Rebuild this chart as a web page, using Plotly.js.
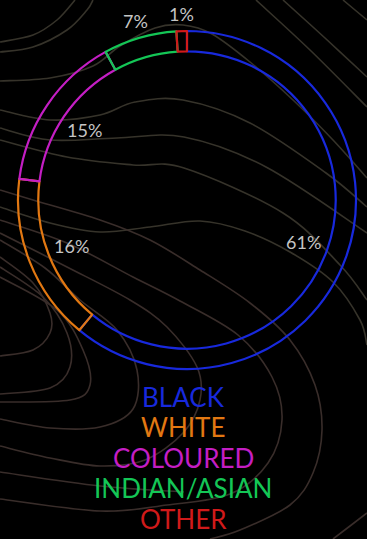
<!DOCTYPE html>
<html>
<head>
<meta charset="utf-8">
<script src="https://cdn.plot.ly/plotly-3.0.1.min.js"></script>
<style>
  html, body { margin: 0; padding: 0; background: #000; }
  #chart { width: 367px; height: 539px; }
</style>
</head>
<body>
<div id="chart"></div>
<script>
// Population groups and their shares (%)
const groups = ['BLACK', 'WHITE', 'COLOURED', 'INDIAN/ASIAN', 'OTHER'];
const shares = [61, 16, 15, 7, 1];
const groupColors = ['#1829dc', '#e27812', '#c41ec4', '#14c656', '#d01a1a'];

const W = 367, H = 539;

// Ring geometry in page pixels
const ring = { cx: 187, cy: 200, r: 169 };

// Decorative terrain lines behind the ring (page pixels)
const terrainOlive = [
  [[0,42],[33,35],[57,20],[75,0]],
  [[0,52],[33,47],[67,30],[87,10],[93,0]],
  [[0,81],[50,78],[93,66],[120,46],[155,28],[183,25],[212,34],[250,62],[293,100],[333,140],[367,178]],
  [[0,110],[50,120],[100,115],[135,102],[183,100],[250,123],[326,173],[367,207]],
  [[0,128],[50,140],[117,138],[184,137],[266,167],[367,233]],
  [[0,140],[67,157],[133,165],[184,168],[283,213],[340,265],[367,300]],
  [[0,207],[50,223],[100,232],[150,227],[200,221],[245,231],[290,252],[333,282],[360,320],[367,345]],
  [[256,0],[310,50],[367,107]],
  [[283,0],[325,38],[367,77]],
  [[343,0],[367,20]]
];
const terrainBrown = [
  [[0,257],[33,283],[50,313],[50,333],[33,350],[0,356]],
  [[0,267],[43,297],[67,333],[70,367],[50,388],[0,394]],
  [[0,277],[57,310],[83,350],[90,385],[70,400],[0,402]],
  [[0,240],[45,268],[80,300],[117,330],[137,370],[133,409],[100,427],[50,428],[0,419]],
  [[0,233],[67,267],[130,300],[167,327],[197,367],[200,400],[183,433],[145,460],[100,466],[50,458],[0,446]],
  [[0,220],[67,243],[133,277],[180,301],[238,335],[272,377],[282,420],[268,463],[230,494],[167,505],[100,511],[0,499]],
  [[0,190],[33,200],[100,220],[150,240],[200,270],[250,303],[290,340],[315,385],[322,430],[313,473],[290,505],[240,530],[210,539]],
  [[0,472],[100,486],[184,492]],
  [[367,513],[333,539]]
];

// Convert a pixel polyline into a smooth SVG path in paper units
function smoothPath(pts) {
  const P = pts.map(p => [p[0] / W, 1 - p[1] / H]);
  const f = v => v.toFixed(5);
  let d = 'M' + f(P[0][0]) + ',' + f(P[0][1]);
  for (let i = 0; i < P.length - 1; i++) {
    const p0 = P[i - 1] || P[i], p1 = P[i], p2 = P[i + 1], p3 = P[i + 2] || P[i + 1];
    const c1 = [p1[0] + (p2[0] - p0[0]) / 6, p1[1] + (p2[1] - p0[1]) / 6];
    const c2 = [p2[0] - (p3[0] - p1[0]) / 6, p2[1] - (p3[1] - p1[1]) / 6];
    d += ' C' + f(c1[0]) + ',' + f(c1[1]) + ' ' + f(c2[0]) + ',' + f(c2[1]) + ' ' + f(p2[0]) + ',' + f(p2[1]);
  }
  return d;
}

const shapes = [];
terrainOlive.forEach(pts => shapes.push({
  type: 'path', xref: 'paper', yref: 'paper', layer: 'below',
  path: smoothPath(pts), line: { color: '#36332a', width: 1.6 }
}));
terrainBrown.forEach(pts => shapes.push({
  type: 'path', xref: 'paper', yref: 'paper', layer: 'below',
  path: smoothPath(pts), line: { color: '#392d2a', width: 1.6 }
}));

// Percentage labels at each slice's mid angle (clockwise from 12 o'clock)
const total = shares.reduce((a, b) => a + b, 0);
const annotations = [];
let cum = 0;
shares.forEach((v, i) => {
  const mid = (cum + v / 2) / total * 2 * Math.PI;
  cum += v;
  const rad = v >= 10 ? 124 : 186;
  const px = ring.cx + rad * Math.sin(mid);
  const py = ring.cy - rad * Math.cos(mid);
  annotations.push({
    xref: 'paper', yref: 'paper', x: px / W, y: 1 - py / H,
    xanchor: 'center', yanchor: 'middle', showarrow: false,
    text: v + '%', font: { family: 'Lato, sans-serif', size: 18, color: '#c4c4c4' }
  });
});

// Colour-coded key under the ring
groups.forEach((g, i) => {
  annotations.push({
    xref: 'paper', yref: 'paper', x: 183 / W, y: 1 - (397 + i * 30.4) / H,
    xanchor: 'center', yanchor: 'middle', showarrow: false, borderpad: 0,
    text: g, font: { family: 'Lato, sans-serif', size: 26, color: groupColors[i] }
  });
});

const trace = {
  type: 'pie',
  values: shares,
  labels: groups,
  sort: false,
  direction: 'clockwise',
  rotation: 0,
  hole: 0.88,
  textinfo: 'none',
  hoverinfo: 'none',
  showlegend: false,
  marker: {
    colors: groups.map(() => 'rgba(0,0,0,0)'),
    line: { color: groupColors, width: 2.2 }
  },
  domain: {
    x: [(ring.cx - ring.r) / W, (ring.cx + ring.r) / W],
    y: [1 - (ring.cy + ring.r) / H, 1 - (ring.cy - ring.r) / H]
  }
};

const layout = {
  width: W, height: H,
  margin: { l: 0, r: 0, t: 0, b: 0 },
  paper_bgcolor: '#000',
  plot_bgcolor: '#000',
  showlegend: false,
  shapes: shapes,
  annotations: annotations
};

Plotly.newPlot('chart', [trace], layout, { displayModeBar: false, staticPlot: true });
</script>
</body>
</html>
